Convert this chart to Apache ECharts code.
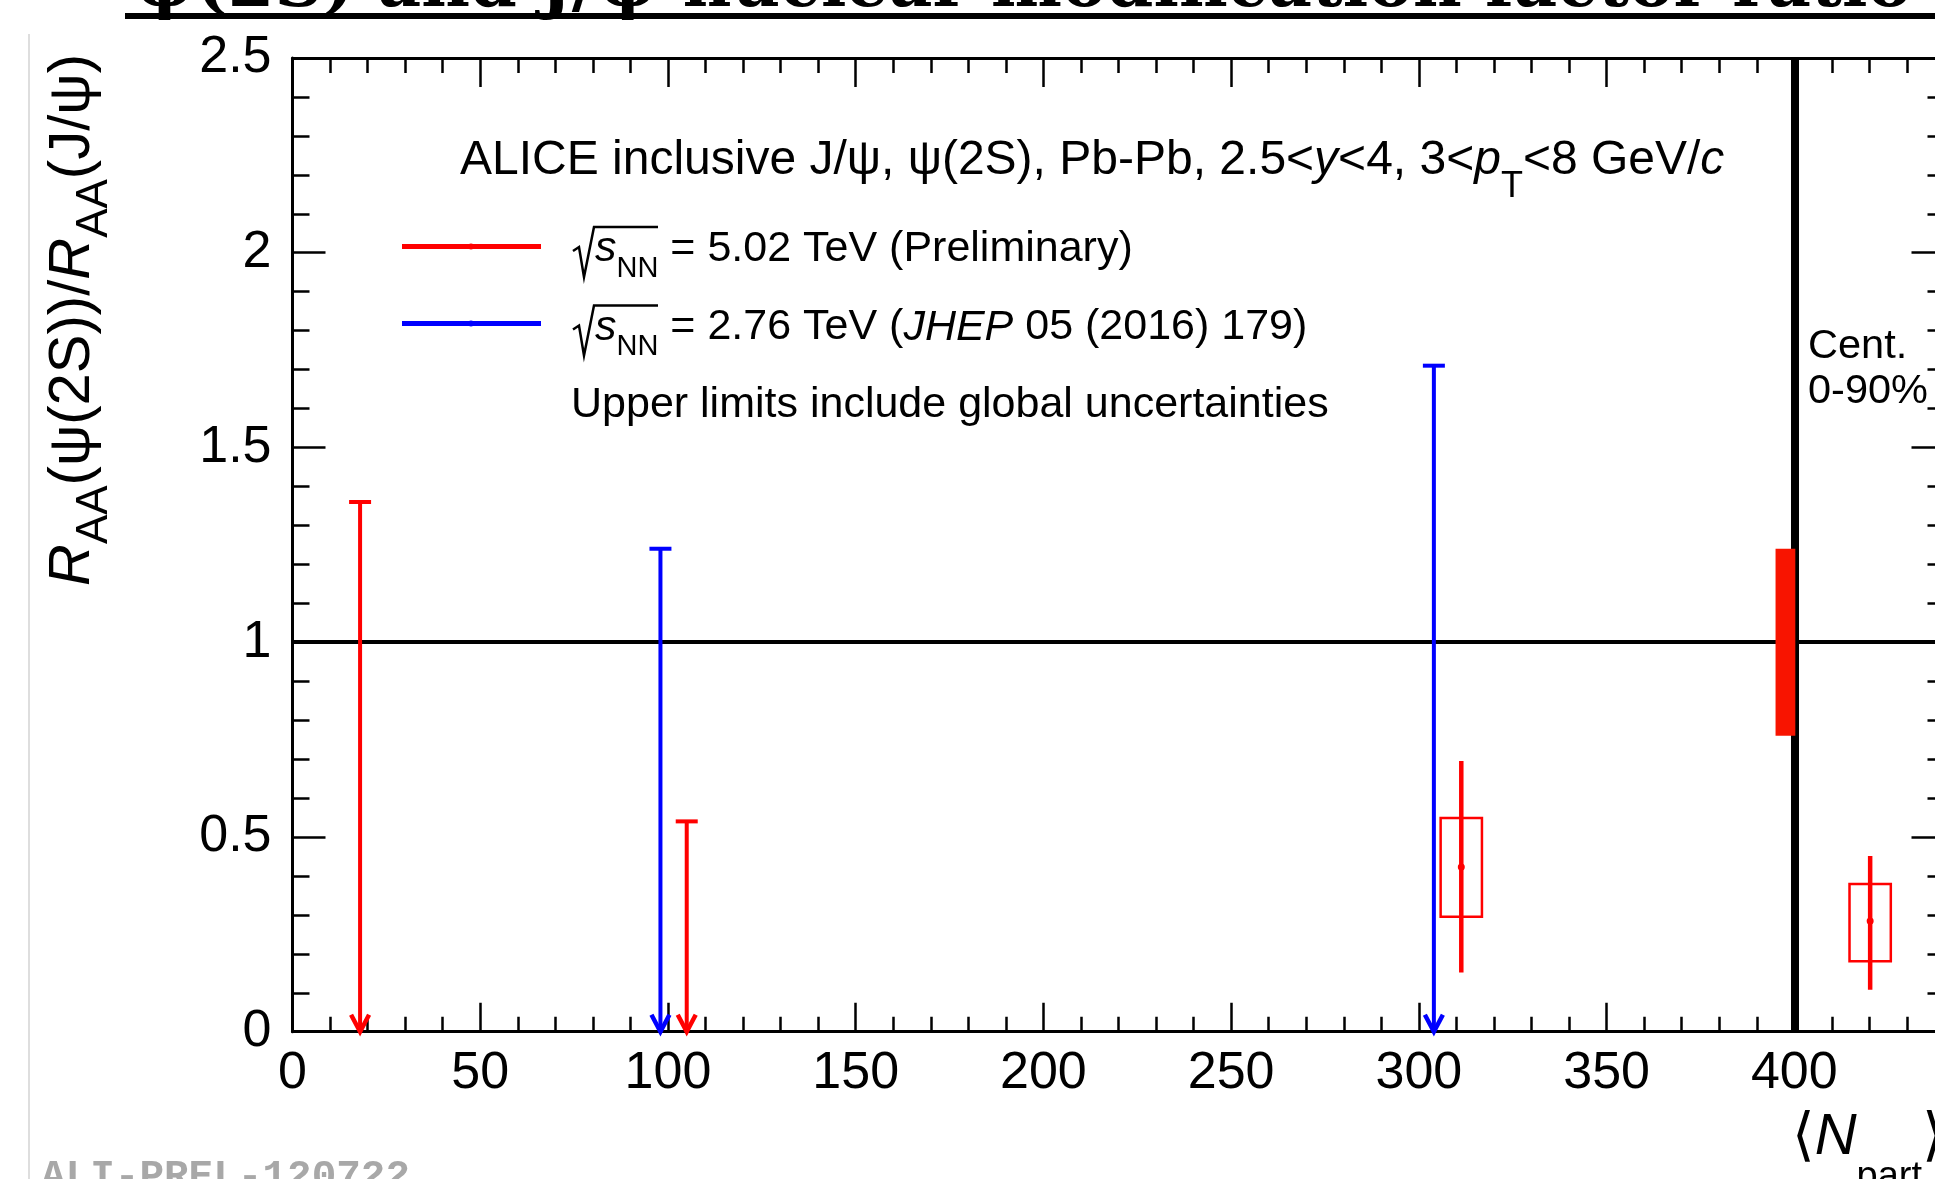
<!DOCTYPE html>
<html>
<head>
<meta charset="utf-8">
<title>psi(2S) / J/psi RAA ratio vs Npart</title>
<script src="https://cdn.jsdelivr.net/npm/echarts@6/dist/echarts.min.js"></script>
<style>
  html, body { margin: 0; padding: 0; background: #ffffff; }
  #chart { width: 1935px; height: 1179px; }
</style>
</head>
<body>
<div id="chart"></div>
<script>
// ---- data -------------------------------------------------------------
// Upper limits (arrows pointing to zero), sqrt(sNN) = 5.02 TeV
const ulNpart502 = [18, 105];
const ulValue502 = [1.36, 0.54];
// Upper limits, sqrt(sNN) = 2.76 TeV (JHEP 05 (2016) 179)
const ulNpart276 = [98, 304];
const ulValue276 = [1.24, 1.71];
// Measured ratios at 5.02 TeV with statistical and systematic uncertainties
const ptNpart502 = [311.3, 420.2];
const ptValue502 = [0.423, 0.284];
const statLow502 = [0.152, 0.108];
const statHigh502 = [0.695, 0.451];
const systLow502 = [0.295, 0.181];
const systHigh502 = [0.549, 0.379];
// Global (correlated) uncertainty on the 5.02 TeV ratio, drawn around unity
const globalUnc502 = [0.24];
// Centrality-integrated (0-90%) reference position and unity line
const centIntegratedNpart = [400];
const unityLine = [1];
// Axis tick labels
const xTickLabels = ['0', '50', '100', '150', '200', '250', '300', '350', '400'];
const yTickLabels = ['0', '0.5', '1', '1.5', '2', '2.5'];

// ---- styling ----------------------------------------------------------
const SANS = "'Liberation Sans', 'DejaVu Sans', sans-serif";
const RED = '#ff0000';
const BLUE = '#0000ff';
const X_MIN = 0, X_MAX = 440;
const Y_MIN = 0, Y_MAX = 2.5;
const SYST_HALF_WIDTH = 5.5;     // half width of the systematic boxes, in Npart units
const GLOBAL_BOX_WIDTH = 5;      // width of the global-uncertainty box, in Npart units

const chart = echarts.init(document.getElementById('chart'), null, { renderer: 'canvas' });

// rich-text helpers: every token is top aligned in a line of height F,
// subscripts are pushed down with a top padding.
function tok(size, extra) {
  return Object.assign({
    fontSize: size, fontFamily: SANS, fill: '#000',
    height: size, lineHeight: size, verticalAlign: 'top'
  }, extra || {});
}
function richStyles(F, Fs, drop) {
  const d = drop + 0.3465 * (F - Fs);
  return {
    n: tok(F),
    i: tok(F, { fontStyle: 'italic' }),
    s: tok(Fs, { height: F, lineHeight: F, padding: [d, 0, 0, 0] })
  };
}
// text element whose main baseline sits at (x, baseline)
function richText(x, baseline, F, text, rich, extra) {
  return Object.assign({
    type: 'text', x: x, y: baseline - 0.3465 * F, silent: true,
    style: { text: text, rich: rich, align: 'left', verticalAlign: 'middle', fill: '#000' }
  }, extra || {});
}

function labelFormatter(labels) {
  return function (v) {
    const s = String(+(+v).toFixed(3));
    return labels.indexOf(s) >= 0 ? s : '';
  };
}

function xAxisDef(position, step, tickLen, withLabels, withLine) {
  return {
    type: 'value', position: position, min: X_MIN, max: X_MAX, interval: step,
    axisLine: { show: withLine, onZero: false, lineStyle: { color: '#000', width: 3 } },
    axisTick: { show: true, inside: true, length: tickLen, lineStyle: { color: '#000', width: 2.5 } },
    axisLabel: {
      show: withLabels, margin: 16, color: '#000', fontSize: 52, fontFamily: SANS,
      showMaxLabel: false, formatter: labelFormatter(xTickLabels)
    },
    splitLine: { show: false }, minorTick: { show: false }, minorSplitLine: { show: false }
  };
}
function yAxisDef(position, step, tickLen, withLabels, withLine) {
  return {
    type: 'value', position: position, min: Y_MIN, max: Y_MAX, interval: step,
    axisLine: { show: withLine, onZero: false, lineStyle: { color: '#000', width: 3 } },
    axisTick: { show: true, inside: true, length: tickLen, lineStyle: { color: '#000', width: 2.5 } },
    axisLabel: {
      show: withLabels, margin: 21, color: '#000', fontSize: 52, fontFamily: SANS,
      formatter: labelFormatter(yTickLabels)
    },
    splitLine: { show: false }, minorTick: { show: false }, minorSplitLine: { show: false }
  };
}

// arrow-down upper limit with a cap on top
function renderUpperLimit(color) {
  return function (params, api) {
    const x = api.value(0);
    const top = api.coord([x, api.value(1)]);
    const bottom = api.coord([x, Y_MIN]);
    return {
      type: 'group',
      children: [
        { type: 'line', shape: { x1: top[0], y1: top[1], x2: bottom[0], y2: bottom[1] - 2 },
          style: { stroke: color, lineWidth: 4 } },
        { type: 'line', shape: { x1: top[0] - 11, y1: top[1], x2: top[0] + 11, y2: top[1] },
          style: { stroke: color, lineWidth: 4 } },
        { type: 'polyline',
          shape: { points: [[bottom[0] - 9, bottom[1] - 17], [bottom[0], bottom[1]], [bottom[0] + 9, bottom[1] - 17]] },
          style: { stroke: color, lineWidth: 4.5, fill: null } }
      ]
    };
  };
}

// point with statistical bar and open systematic box
function renderMeasured(params, api) {
  const x = api.value(0);
  const c = api.coord([x, api.value(1)]);
  const lo = api.coord([x, api.value(2)]);
  const hi = api.coord([x, api.value(3)]);
  const bl = api.coord([x - SYST_HALF_WIDTH, api.value(4)]);
  const tr = api.coord([x + SYST_HALF_WIDTH, api.value(5)]);
  return {
    type: 'group',
    children: [
      { type: 'rect', shape: { x: bl[0], y: tr[1], width: tr[0] - bl[0], height: bl[1] - tr[1] },
        style: { stroke: RED, lineWidth: 2.5, fill: null } },
      { type: 'line', shape: { x1: lo[0], y1: lo[1], x2: hi[0], y2: hi[1] },
        style: { stroke: RED, lineWidth: 4.5 } },
      { type: 'circle', shape: { cx: c[0], cy: c[1], r: 3.5 }, style: { fill: RED } }
    ]
  };
}

// global uncertainty box, attached to the left of the reference line
function renderGlobal(params, api) {
  const x = api.value(0);
  const u = api.value(1);
  const p0 = api.coord([x - GLOBAL_BOX_WIDTH, 1 + u]);
  const p1 = api.coord([x, 1 - u]);
  return {
    type: 'rect',
    shape: { x: p0[0], y: p0[1], width: p1[0] - p0[0] + 1, height: p1[1] - p0[1] },
    style: { fill: '#f81400' }
  };
}

// ---- annotations ------------------------------------------------------
const graphics = [];

// slide heading (only its lower part fits on the page) with underline
graphics.push({
  type: 'text', x: 133, y: 12 - 0.346 * 67, silent: true,
  style: {
    text: 'ψ(2S) and J/ψ nuclear modification factor ratio',
    fontFamily: "'DejaVu Serif', serif", fontWeight: 'bold', fontSize: 67,
    fill: '#000', align: 'left', verticalAlign: 'middle'
  }
});
graphics.push({ type: 'rect', silent: true, shape: { x: 125, y: 13, width: 1810, height: 6 }, style: { fill: '#000' } });

// light page border on the left
graphics.push({ type: 'rect', silent: true, shape: { x: 28, y: 34, width: 2, height: 1145 }, style: { fill: '#dedede' } });

// figure identifier
graphics.push({
  type: 'text', x: 41, y: 1192 - 0.346 * 41, silent: true,
  style: {
    text: 'ALI-PREL-120722', fontFamily: "'Liberation Mono', 'DejaVu Sans Mono', monospace",
    fontWeight: 'bold', fontSize: 41, fill: '#a8a8a8', align: 'left', verticalAlign: 'middle'
  }
});

// y-axis title (rotated)
graphics.push({
  type: 'text', x: 73, y: 320, rotation: Math.PI / 2, silent: true,
  style: {
    text: '{i|R}{s|AA}{n|(ψ(2S))/}{i|R}{s|AA}{n|(J/ψ)}',
    rich: richStyles(58, 44, 17), align: 'center', verticalAlign: 'middle', fill: '#000'
  }
});

// x-axis title
graphics.push(richText(1792, 1158, 58, '{n|⟨}{i|N}{s|part}{n|⟩}', richStyles(58, 38, 33)));

// header line
graphics.push(richText(460, 177.5, 48,
  '{n|ALICE inclusive J/ψ, ψ(2S), Pb-Pb, 2.5<}{i|y}{n|<4, 3<}{i|p}{s|T}{n|<8 GeV/}{i|c}',
  richStyles(48, 36, 22)));

// legend entries
const legendRich = richStyles(43, 29, 15);
function radical(baseline) {
  return {
    type: 'polyline', silent: true,
    shape: { points: [[573, baseline - 13], [579, baseline - 17], [584, baseline + 13], [594, baseline - 37], [658, baseline - 37]] },
    style: { stroke: '#000', lineWidth: 2.5, fill: null, lineJoin: 'miter' }
  };
}
[[246.5, RED], [323.5, BLUE]].forEach(function (e) {
  graphics.push({ type: 'line', silent: true, shape: { x1: 402, y1: e[0], x2: 541, y2: e[0] }, style: { stroke: e[1], lineWidth: 5 } });
  graphics.push({ type: 'circle', silent: true, shape: { cx: 471, cy: e[0], r: 3 }, style: { fill: e[1] } });
});
graphics.push(radical(264));
graphics.push(richText(595, 264, 43, '{i|s}{s|NN}{n| = 5.02 TeV (Preliminary)}', legendRich));
graphics.push(radical(342.5));
graphics.push(richText(595, 342.5, 43, '{i|s}{s|NN}{n| = 2.76 TeV (}{i|JHEP}{n| 05 (2016) 179)}', legendRich));
graphics.push(richText(571, 420, 43, '{n|Upper limits include global uncertainties}', legendRich));

// centrality-integrated label
graphics.push(richText(1808, 361, 41.5, '{n|Cent.}', richStyles(41.5, 30, 10)));
graphics.push(richText(1808, 406, 41.5, '{n|0-90%}', richStyles(41.5, 30, 10)));

// ---- chart ------------------------------------------------------------
const option = {
  backgroundColor: '#ffffff',
  animation: false,
  grid: {
    left: 292.5, top: 58, right: -9.5, bottom: 147.3,
    containLabel: false, outerBoundsMode: 'none', show: false
  },
  xAxis: [
    xAxisDef('bottom', 50, 29, true, true),
    xAxisDef('bottom', 10, 15, false, false),
    xAxisDef('top', 50, 29, false, true),
    xAxisDef('top', 10, 15, false, false)
  ],
  yAxis: [
    yAxisDef('left', 0.5, 33, true, true),
    yAxisDef('left', 0.1, 17, false, false),
    yAxisDef('right', 0.5, 33, false, true),
    yAxisDef('right', 0.1, 17, false, false)
  ],
  series: [
    {
      // reference lines: unity and the centrality-integrated position
      type: 'line', xAxisIndex: 0, yAxisIndex: 0, z: 3, silent: true,
      data: [], symbol: 'none',
      markLine: {
        silent: true, symbol: ['none', 'none'], animation: false,
        label: { show: false }, emphasis: { disabled: true },
        data: [
          { yAxis: unityLine[0], lineStyle: { color: '#000', width: 4, type: 'solid' } },
          { xAxis: centIntegratedNpart[0], lineStyle: { color: '#000', width: 8, type: 'solid' } }
        ]
      }
    },
    {
      type: 'custom', name: 'global', xAxisIndex: 0, yAxisIndex: 0, z: 5, silent: true,
      data: globalUnc502.map(function (u) { return [centIntegratedNpart[0], u]; }),
      renderItem: renderGlobal
    },
    {
      type: 'custom', name: '2.76 TeV', xAxisIndex: 0, yAxisIndex: 0, z: 6, silent: true,
      data: ulNpart276.map(function (x, i) { return [x, ulValue276[i]]; }),
      renderItem: renderUpperLimit(BLUE)
    },
    {
      type: 'custom', name: '5.02 TeV UL', xAxisIndex: 0, yAxisIndex: 0, z: 6, silent: true,
      data: ulNpart502.map(function (x, i) { return [x, ulValue502[i]]; }),
      renderItem: renderUpperLimit(RED)
    },
    {
      type: 'custom', name: '5.02 TeV', xAxisIndex: 0, yAxisIndex: 0, z: 7, silent: true,
      data: ptNpart502.map(function (x, i) {
        return [x, ptValue502[i], statLow502[i], statHigh502[i], systLow502[i], systHigh502[i]];
      }),
      renderItem: renderMeasured
    }
  ],
  graphic: graphics
};
chart.setOption(option);
</script>
</body>
</html>
